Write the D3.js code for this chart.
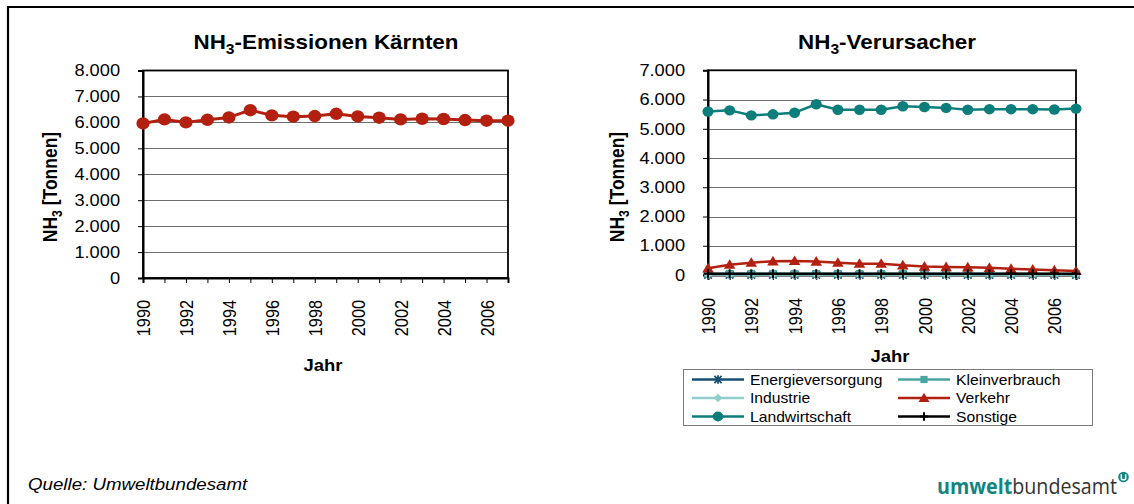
<!DOCTYPE html>
<html><head><meta charset="utf-8">
<script src="https://cdn.jsdelivr.net/npm/d3@7"></script>
<style>
html,body{margin:0;padding:0;background:#fff;}
svg{display:block;font-family:"Liberation Sans",Arial,sans-serif;}
</style></head>
<body>
<svg id="c" width="1134" height="504"></svg>
<script>
// ---------- data ----------
const years = [1990,1991,1992,1993,1994,1995,1996,1997,1998,1999,2000,2001,2002,2003,2004,2005,2006,2007];
const xTickLabels = [1990,1992,1994,1996,1998,2000,2002,2004,2006];
const yTicksLeft = [0,1000,2000,3000,4000,5000,6000,7000,8000];
const yTicksRight = [0,1000,2000,3000,4000,5000,6000,7000];

const kaernten = [5960,6115,6000,6100,6190,6470,6270,6220,6245,6330,6230,6180,6115,6140,6130,6090,6065,6065];

const energieversorgung = [8,8,8,8,8,8,8,8,8,8,8,8,8,8,8,8,8,8];
const kleinverbrauch   = [45,45,44,44,43,43,42,42,42,41,41,40,40,40,39,39,38,38];
const industrie        = [15,15,15,15,15,15,15,15,15,15,15,15,15,15,15,15,15,15];
const verkehr          = [228,353,422,470,480,460,420,388,388,330,290,270,265,245,210,185,162,140];
const landwirtschaft   = [5590,5630,5460,5495,5550,5840,5650,5650,5650,5770,5745,5715,5650,5670,5670,5670,5660,5690];
const sonstige         = [45,45,45,45,45,45,45,45,45,45,45,45,45,45,45,45,45,45];

const seriesNames = ["Energieversorgung","Kleinverbrauch","Industrie","Verkehr","Landwirtschaft","Sonstige"];

// ---------- helpers ----------
const SX = 1.12; // horizontal stretch of the original image
const svg = d3.select("#c");
const de = d3.formatLocale({decimal:",",thousands:".",grouping:[3],currency:["","€"]});
const fmt = de.format(",d");

function stext(x, y, str, o) {
  o = o || {};
  const t = svg.append("text")
    .attr("transform", `translate(${x},${y}) scale(${SX},1)` + (o.rot ? " rotate(-90)" : ""))
    .attr("text-anchor", o.anchor || "middle")
    .attr("font-size", o.size || 16)
    .attr("font-weight", o.bold ? "bold" : "normal")
    .attr("font-style", o.italic ? "italic" : "normal")
    .attr("fill", o.fill || "#000");
  if (o.sub) {
    t.append("tspan").text(str[0]);
    t.append("tspan").attr("dy", o.size*0.25).attr("font-size", o.size*0.7).text(str[1]);
    t.append("tspan").attr("dy", -o.size*0.25).text(str[2]);
  } else t.text(str);
  return t;
}

function marker(g, type, cx, cy, color, s) {
  if (type === "circle") {
    g.append("ellipse").attr("cx", cx).attr("cy", cy).attr("rx", s*SX*0.95).attr("ry", s).attr("fill", color);
  } else if (type === "triangle") {
    g.append("path").attr("d", `M${cx},${cy-s}L${cx+s*1.05},${cy+s*0.75}L${cx-s*1.05},${cy+s*0.75}Z`).attr("fill", color);
  } else if (type === "square") {
    g.append("rect").attr("x", cx-s).attr("y", cy-s).attr("width", 2*s).attr("height", 2*s).attr("fill", color);
  } else if (type === "diamond") {
    g.append("path").attr("d", `M${cx},${cy-s}L${cx+s},${cy}L${cx},${cy+s}L${cx-s},${cy}Z`).attr("fill", color);
  } else if (type === "asterisk") {
    g.append("path").attr("d", `M${cx-s},${cy-s}L${cx+s},${cy+s}M${cx+s},${cy-s}L${cx-s},${cy+s}M${cx},${cy-s*1.2}L${cx},${cy+s*1.2}`)
      .attr("stroke", color).attr("stroke-width", 1.8).attr("fill", "none");
  } else if (type === "plus") {
    g.append("path").attr("d", `M${cx-s},${cy}L${cx+s},${cy}M${cx},${cy-s}L${cx},${cy+s}`)
      .attr("stroke", color).attr("stroke-width", 2).attr("fill", "none");
  }
}

function chart(cfg) {
  const x = d3.scalePoint().domain(years).range([cfg.x0, cfg.x1]).padding(0);
  const y = d3.scaleLinear().domain([0, cfg.max]).range([cfg.y0, cfg.y1]);
  const g = svg.append("g");
  g.selectAll("line.grid").data(cfg.yTicks.filter(v => v > 0 && v < cfg.max)).join("line")
    .attr("x1", cfg.x0).attr("x2", cfg.x1).attr("y1", d => Math.round(y(d))+0.5).attr("y2", d => Math.round(y(d))+0.5)
    .attr("stroke", "#6e6e6e").attr("stroke-width", 1);
  g.append("rect").attr("x", cfg.x0).attr("y", cfg.y1).attr("width", cfg.x1-cfg.x0).attr("height", cfg.y0-cfg.y1)
    .attr("fill", "none").attr("stroke", "#000").attr("stroke-width", 1.8);
  const ya = g.append("g").attr("transform", `translate(${cfg.x0},0)`)
    .call(d3.axisLeft(y).tickValues(cfg.yTicks).tickSize(5).tickPadding(15.5).tickFormat(fmt));
  ya.select(".domain").attr("stroke", "#000").attr("stroke-width", 2);
  ya.selectAll(".tick line").attr("stroke", "#000");
  ya.selectAll(".tick text").attr("font-size", 16.3).attr("font-family", "Liberation Sans, Arial, sans-serif")
    .attr("fill", "#000").attr("transform", `scale(${SX},1)`);
  const xa = g.append("g").attr("transform", `translate(0,${cfg.y0})`)
    .call(d3.axisBottom(x).tickValues(years).tickSize(5).tickFormat(d => xTickLabels.includes(d) ? String(d) : ""));
  xa.select(".domain").attr("stroke", "#000").attr("stroke-width", 2);
  xa.selectAll(".tick line").attr("stroke", "#000");
  xa.selectAll(".tick text").attr("font-size", 16.3).attr("font-family", "Liberation Sans, Arial, sans-serif")
    .attr("fill", "#000")
    .attr("y", null).attr("x", -cfg.labPad).attr("dy", "0.36em")
    .attr("text-anchor", "end")
    .attr("transform", `scale(${SX},1) rotate(-90)`);
  cfg.series.forEach(s => {
    const line = d3.line().x((d, i) => x(years[i])).y(d => y(d));
    g.append("path").datum(s.values).attr("d", line).attr("fill", "none")
      .attr("stroke", s.color).attr("stroke-width", s.lw).attr("stroke-linejoin", "round");
    const mg = g.append("g");
    s.values.forEach((v, i) => marker(mg, s.marker, x(years[i]), y(v), s.color, s.ms));
  });
  return {x, y};
}

// ---------- frame ----------
svg.append("line").attr("x1", 7).attr("x2", 1134).attr("y1", 7).attr("y2", 7).attr("stroke", "#000").attr("stroke-width", 2.2);
svg.append("line").attr("x1", 8).attr("x2", 8).attr("y1", 6).attr("y2", 504).attr("stroke", "#000").attr("stroke-width", 2.2);

// ---------- left chart ----------
chart({x0:143, x1:508, y0:278, y1:70.5, max:8000, yTicks:yTicksLeft, labPad:22,
  series:[{values:kaernten, color:"#b3200f", lw:3, marker:"circle", ms:6.2}]});
stext(326, 49, ["NH","3","-Emissionen Kärnten"], {size:20, bold:true, sub:true});
stext(57, 187, ["NH","3"," [Tonnen]"], {size:17.5, bold:true, sub:true, rot:true});
stext(323, 371, "Jahr", {size:16.5, bold:true});

// ---------- right chart ----------
const colors = {
  Energieversorgung:"#174f74", Kleinverbrauch:"#48a5a2", Industrie:"#8fcecb",
  Verkehr:"#b3200f", Landwirtschaft:"#0b7e7b", Sonstige:"#000000"
};
const rightSeries = [
  {name:"Energieversorgung", values:energieversorgung, color:colors.Energieversorgung, lw:2.5, marker:"asterisk", ms:3.8},
  {name:"Kleinverbrauch", values:kleinverbrauch, color:colors.Kleinverbrauch, lw:2.5, marker:"square", ms:3.8},
  {name:"Industrie", values:industrie, color:colors.Industrie, lw:2.5, marker:"diamond", ms:4.5},
  {name:"Verkehr", values:verkehr, color:colors.Verkehr, lw:2.5, marker:"triangle", ms:5.5},
  {name:"Landwirtschaft", values:landwirtschaft, color:colors.Landwirtschaft, lw:2.5, marker:"circle", ms:5.2},
  {name:"Sonstige", values:sonstige, color:colors.Sonstige, lw:2.5, marker:"plus", ms:4.5}
];
chart({x0:708, x1:1076, y0:275, y1:70.3, max:7000, yTicks:yTicksRight, labPad:23, series:rightSeries});
stext(887, 49, ["NH","3","-Verursacher"], {size:20, bold:true, sub:true});
stext(624, 187, ["NH","3"," [Tonnen]"], {size:17.5, bold:true, sub:true, rot:true});
stext(890, 362, "Jahr", {size:16.5, bold:true});

// ---------- legend ----------
svg.append("rect").attr("x", 683.5).attr("y", 369.5).attr("width", 409).attr("height", 56)
  .attr("fill", "#fff").attr("stroke", "#7a7a7a").attr("stroke-width", 1);
const legPos = [[0,0],[1,0],[0,1],[1,1],[0,2],[1,2]];
const colX = [692, 898], rowY = [379.5, 398, 416.5];
rightSeries.forEach((s, i) => {
  const [c, r] = legPos[i];
  const lx = colX[c], ly = rowY[r];
  svg.append("line").attr("x1", lx).attr("x2", lx+52).attr("y1", ly).attr("y2", ly)
    .attr("stroke", s.color).attr("stroke-width", 2.5);
  marker(svg.append("g"), s.marker, lx+26, ly, s.color, s.ms*0.95);
  stext(lx+58, ly+5, s.name, {size:14, anchor:"start"});
});

// ---------- source & logo ----------
stext(28, 490, "Quelle: Umweltbundesamt", {size:16.7, italic:true, anchor:"start"});
const logo = svg.append("text").attr("x", 937).attr("y", 494).attr("font-size", 21)
  .attr("font-family", "'Open Sans','DejaVu Sans',sans-serif")
  .attr("textLength", 180).attr("lengthAdjust", "spacingAndGlyphs");
logo.append("tspan").attr("font-weight", "bold").attr("fill", "#12857f").text("umwelt");
logo.append("tspan").attr("font-weight", "normal").attr("fill", "#333").text("bundesamt");
svg.append("circle").attr("cx", 1123.5).attr("cy", 477).attr("r", 5.3).attr("fill", "#12857f");
svg.append("path").attr("d", "M1121.3,474.3V478.2Q1121.3,479.8 1123.5,479.8Q1125.7,479.8 1125.7,478.2V474.3")
  .attr("fill", "none").attr("stroke", "#fff").attr("stroke-width", 1.5);
</script>
</body></html>
